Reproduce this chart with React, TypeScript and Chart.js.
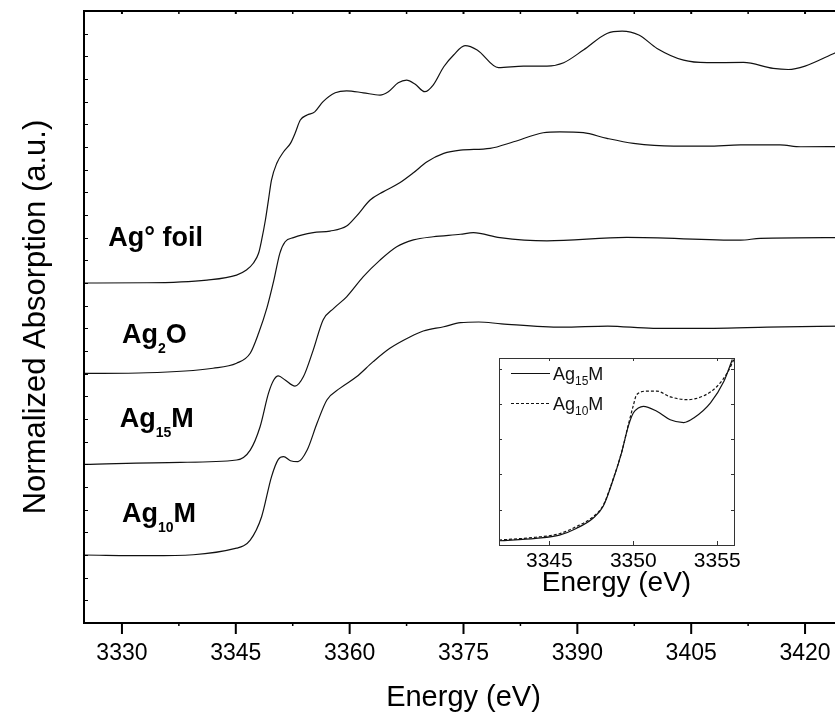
import React, { useEffect, useRef } from 'react';
import { Chart, registerables } from 'chart.js';

Chart.register(...registerables);

const FONT = "'Liberation Sans', Arial, Helvetica, sans-serif";

// ---- Main chart data (Energy in eV, normalized absorption offset stacked) ----
const foilE = [3325, 3333.3, 3341.2, 3345.1, 3346.4, 3347.3, 3348.0, 3348.4, 3348.9, 3349.3, 3349.7, 3350.4, 3351.3, 3352.2, 3352.8, 3353.5, 3354.4, 3355.4, 3356.5, 3358.1, 3359.6, 3361.8, 3364.0, 3365.1, 3366.4, 3367.5, 3368.6, 3369.9, 3371.0, 3372.4, 3373.7, 3375.2, 3376.8, 3379.6, 3382.9, 3386.0, 3388.2, 3390.8, 3393.9, 3395.9, 3398.1, 3400.5, 3404.0, 3407.1, 3411.9, 3415.8, 3417.8, 3420.0, 3424.0, 3425];
const foilA = [15.0, 15.01, 15.13, 15.35, 15.57, 15.87, 16.31, 16.89, 17.78, 18.66, 19.54, 20.28, 20.79, 21.16, 21.6, 22.19, 22.41, 22.55, 23.0, 23.39, 23.48, 23.39, 23.29, 23.44, 23.83, 23.95, 23.78, 23.44, 23.73, 24.54, 25.06, 25.47, 25.28, 24.5, 24.57, 24.57, 24.72, 25.28, 26.01, 26.11, 25.94, 25.35, 24.83, 24.72, 24.73, 24.47, 24.42, 24.57, 25.16, 25.3];

const ag2oE = [3325, 3333.3, 3342.0, 3345.1, 3346.9, 3348.0, 3349.1, 3350.0, 3350.8, 3351.5, 3352.6, 3355.2, 3357.4, 3359.6, 3360.9, 3362.7, 3364.4, 3366.6, 3368.4, 3370.2, 3372.4, 3374.6, 3378.5, 3381.6, 3385.5, 3387.7, 3390.8, 3393.9, 3397.4, 3402.7, 3407.1, 3411.5, 3416.7, 3419.4, 3425];
const ag2oA = [11.01, 11.04, 11.24, 11.46, 11.9, 12.78, 13.9, 15.1, 16.31, 16.82, 17.0, 17.22, 17.29, 17.51, 17.95, 18.66, 19.02, 19.42, 19.86, 20.35, 20.72, 20.86, 20.94, 21.23, 21.63, 21.67, 21.63, 21.38, 21.16, 21.04, 21.04, 21.09, 21.09, 21.01, 21.02];

const ag15E = [3325, 3337.7, 3345.1, 3346.9, 3348.2, 3349.3, 3350.0, 3350.6, 3351.5, 3352.8, 3353.9, 3355.2, 3356.5, 3357.9, 3359.6, 3361.8, 3364.0, 3366.2, 3368.4, 3371.0, 3374.6, 3376.3, 3379.8, 3386.0, 3396.5, 3411.5, 3414.1, 3425];
const ag15A = [7.0, 7.09, 7.19, 7.63, 8.66, 10.13, 10.72, 10.9, 10.72, 10.45, 10.86, 12.04, 13.37, 13.88, 14.39, 15.28, 16.01, 16.6, 16.9, 17.04, 17.15, 17.22, 17.0, 16.86, 17.01, 16.89, 16.97, 17.0];

const ag10E = [3325, 3333.7, 3345.1, 3346.9, 3348.4, 3349.7, 3350.6, 3351.3, 3352.2, 3353.2, 3354.4, 3355.7, 3357.0, 3358.7, 3360.9, 3363.1, 3365.3, 3368.0, 3369.7, 3372.4, 3374.6, 3377.0, 3380.0, 3388.0, 3394.0, 3400.0, 3408.0, 3415.0, 3425];
const ag10A = [3.0, 2.97, 3.3, 3.66, 4.69, 6.45, 7.22, 7.34, 7.16, 7.12, 7.63, 8.81, 9.84, 10.35, 10.86, 11.53, 12.12, 12.63, 12.88, 13.07, 13.25, 13.28, 13.2, 13.05, 13.1, 13.0, 13.0, 13.05, 13.1];

const xTickValues = [3330, 3345, 3360, 3375, 3390, 3405, 3420];

// ---- Inset data (edge region) ----
const in15E = [3342.0, 3344.2, 3345.6, 3346.6, 3347.6, 3348.2, 3348.8, 3349.3, 3349.7, 3350.0, 3350.3, 3350.6, 3351.4, 3352.2, 3353.0, 3353.6, 3354.6, 3355.4, 3355.9];
const in15A = [0.12, 0.19, 0.28, 0.47, 0.76, 1.09, 1.85, 2.61, 3.36, 3.74, 3.88, 3.93, 3.79, 3.55, 3.47, 3.6, 4.03, 4.64, 5.26];
const in10E = [3342.0, 3344.2, 3345.6, 3346.6, 3347.6, 3348.2, 3348.8, 3349.3, 3349.7, 3350.0, 3350.2, 3350.8, 3351.4, 3352.2, 3353.2, 3354.2, 3355.0, 3355.6, 3356.0];
const in10A = [0.14, 0.22, 0.32, 0.52, 0.8, 1.12, 1.87, 2.62, 3.4, 3.95, 4.26, 4.36, 4.36, 4.2, 4.12, 4.23, 4.5, 4.88, 5.26];

const insetTickValues = [3345, 3350, 3355];

// Sample label texts: [text, isSubscript]
const labelFoil: [string, boolean][] = [['Ag° foil', false]];
const labelAg2O: [string, boolean][] = [['Ag', false], ['2', true], ['O', false]];
const labelAg15: [string, boolean][] = [['Ag', false], ['15', true], ['M', false]];
const labelAg10: [string, boolean][] = [['Ag', false], ['10', true], ['M', false]];

// Label anchors in data coordinates (energy, absorption at baseline)
const labelAnchors = [
  { parts: labelFoil, x: 3328.2, y: 16.63 },
  { parts: labelAg2O, x: 3330.0, y: 12.35 },
  { parts: labelAg15, x: 3329.7, y: 8.65 },
  { parts: labelAg10, x: 3330.0, y: 4.46 },
];

const toPts = (xs: number[], ys: number[]) => xs.map((x, i) => ({ x, y: ys[i] }));

function drawRich(ctx: CanvasRenderingContext2D, parts: [string, boolean][], x: number, y: number, big: number, small: number, subDy: number, weight: string) {
  let cx = x;
  ctx.textBaseline = 'alphabetic';
  ctx.textAlign = 'left';
  for (const [t, sub] of parts) {
    ctx.font = `${weight} ${sub ? small : big}px ${FONT}`;
    ctx.fillText(t, cx, sub ? y + subDy : y);
    cx += ctx.measureText(t).width;
  }
}

const mainDecor = {
  id: 'mainDecor',
  afterDatasetsDraw(chart: any) {
    const { ctx, chartArea: a, scales } = chart;
    const x = scales.x, y = scales.y;
    ctx.save();
    ctx.strokeStyle = '#000';
    ctx.lineWidth = 2;
    ctx.strokeRect(a.left, a.top, a.right - a.left, a.bottom - a.top);
    // major x ticks (outward bottom, inward top)
    ctx.beginPath();
    xTickValues.forEach((v) => {
      const px = x.getPixelForValue(v);
      ctx.moveTo(px, a.bottom);
      ctx.lineTo(px, a.bottom + 11);
      ctx.moveTo(px, a.top);
      ctx.lineTo(px, a.top + 3);
    });
    ctx.stroke();
    // minor x ticks
    ctx.lineWidth = 1.5;
    ctx.beginPath();
    for (let i = 0; i < xTickValues.length - 1; i++) {
      const px = x.getPixelForValue((xTickValues[i] + xTickValues[i + 1]) / 2);
      ctx.moveTo(px, a.bottom);
      ctx.lineTo(px, a.bottom + 3);
      ctx.moveTo(px, a.top);
      ctx.lineTo(px, a.top + 3);
    }
    ctx.stroke();
    // y ticks inward
    ctx.lineWidth = 1;
    ctx.beginPath();
    for (let v = y.min + 1; v < y.max; v++) {
      const py = Math.round(y.getPixelForValue(v)) + 0.5;
      ctx.moveTo(a.left, py);
      ctx.lineTo(a.left + 4, py);
    }
    ctx.stroke();
    // sample labels
    ctx.fillStyle = '#000';
    labelAnchors.forEach((l) => {
      drawRich(ctx, l.parts, x.getPixelForValue(l.x), y.getPixelForValue(l.y), 27, 14, 10, 'bold');
    });
    ctx.restore();
  },
};

const insetLegend: { ds: number; parts: [string, boolean][] }[] = [
  { ds: 0, parts: labelAg15 },
  { ds: 1, parts: labelAg10 },
];

const insetDecor = {
  id: 'insetDecor',
  beforeDatasetsDraw(chart: any) {
    const { ctx, chartArea: a } = chart;
    ctx.save();
    ctx.fillStyle = '#fff';
    ctx.fillRect(a.left, a.top, a.right - a.left, a.bottom - a.top);
    ctx.restore();
  },
  afterDatasetsDraw(chart: any) {
    const { ctx, chartArea: a, scales } = chart;
    const x = scales.x, y = scales.y;
    ctx.save();
    ctx.strokeStyle = '#333';
    ctx.lineWidth = 1;
    ctx.strokeRect(Math.round(a.left) + 0.5, Math.round(a.top) + 0.5, Math.round(a.right - a.left), Math.round(a.bottom - a.top));
    ctx.beginPath();
    insetTickValues.forEach((v) => {
      const px = Math.round(x.getPixelForValue(v)) + 0.5;
      ctx.moveTo(px, a.bottom);
      ctx.lineTo(px, a.bottom - 4);
      ctx.moveTo(px, a.top);
      ctx.lineTo(px, a.top + 3);
    });
    for (let v = 1; v < y.max; v++) {
      const py = Math.round(y.getPixelForValue(v)) + 0.5;
      ctx.moveTo(a.left, py);
      ctx.lineTo(a.left + 3, py);
      ctx.moveTo(a.right, py);
      ctx.lineTo(a.right - 3, py);
    }
    ctx.stroke();
    // legend
    insetLegend.forEach((item, i) => {
      const ds = chart.data.datasets[item.ds];
      const ly = a.top + 15.5 + i * 30;
      ctx.strokeStyle = ds.borderColor;
      ctx.lineWidth = 1.2;
      ctx.setLineDash(ds.borderDash || []);
      ctx.beginPath();
      ctx.moveTo(a.left + 12, ly);
      ctx.lineTo(a.left + 51, ly);
      ctx.stroke();
      ctx.setLineDash([]);
      ctx.fillStyle = '#111';
      drawRich(ctx, item.parts, a.left + 54, ly + 6.5, 18, 12, 5, 'normal');
    });
    ctx.restore();
  },
};

export default function App() {
  const mainRef = useRef<HTMLCanvasElement | null>(null);
  const insetRef = useRef<HTMLCanvasElement | null>(null);

  useEffect(() => {
    if (!mainRef.current || !insetRef.current) return;
    const lineDs = (data: { x: number; y: number }[], extra: any = {}) => ({
      data,
      borderColor: '#111',
      borderWidth: 1.2,
      pointRadius: 0,
      fill: false,
      cubicInterpolationMode: 'monotone',
      ...extra,
    });

    const main = new Chart(mainRef.current, {
      type: 'line',
      data: {
        datasets: [
          lineDs(toPts(foilE, foilA)),
          lineDs(toPts(ag2oE, ag2oA)),
          lineDs(toPts(ag15E, ag15A)),
          lineDs(toPts(ag10E, ag10A)),
        ],
      } as any,
      options: {
        responsive: false,
        animation: false,
        layout: { padding: { top: 11, right: 17, left: 0, bottom: 0 } },
        plugins: { legend: { display: false }, tooltip: { enabled: false } },
        scales: {
          x: {
            type: 'linear',
            min: 3325,
            max: 3425,
            grid: { display: false, drawTicks: false },
            border: { display: false },
            afterBuildTicks: (s: any) => {
              s.ticks = xTickValues.map((v) => ({ value: v }));
            },
            afterFit: (s: any) => {
              s.height = 96;
            },
            ticks: {
              padding: 16.5,
              color: '#000',
              autoSkip: false,
              maxRotation: 0,
              font: { family: FONT, size: 23 },
              callback: (v: any) => String(v),
            },
            title: {
              display: true,
              text: 'Energy (eV)',
              color: '#000',
              font: { family: FONT, size: 29 },
              padding: { top: 0, bottom: 4 },
            },
          },
          y: {
            type: 'linear',
            min: 0,
            max: 27,
            grid: { display: false, drawTicks: false },
            border: { display: false },
            ticks: { display: false },
            afterFit: (s: any) => {
              s.width = 84;
            },
            title: {
              display: true,
              text: 'Normalized Absorption (a.u.)',
              color: '#000',
              font: { family: FONT, size: 31 },
              padding: { top: 18, bottom: 0 },
            },
          },
        },
      } as any,
      plugins: [mainDecor],
    });

    const inset = new Chart(insetRef.current, {
      type: 'line',
      data: {
        datasets: [
          lineDs(toPts(in15E, in15A)),
          lineDs(toPts(in10E, in10A), { borderDash: [3, 2] }),
        ],
      } as any,
      options: {
        responsive: false,
        animation: false,
        layout: { padding: { top: 28, right: 36, left: 0, bottom: 0 } },
        plugins: { legend: { display: false }, tooltip: { enabled: false } },
        scales: {
          x: {
            type: 'linear',
            min: 3342,
            max: 3356,
            grid: { display: false, drawTicks: false },
            border: { display: false },
            afterBuildTicks: (s: any) => {
              s.ticks = insetTickValues.map((v) => ({ value: v }));
            },
            afterFit: (s: any) => {
              s.height = 55;
            },
            ticks: {
              padding: 3.4,
              color: '#000',
              autoSkip: false,
              maxRotation: 0,
              font: { family: FONT, size: 21 },
              callback: (v: any) => String(v),
            },
            title: {
              display: true,
              text: 'Energy (eV)',
              color: '#000',
              font: { family: FONT, size: 28 },
              padding: { top: 0, bottom: 0 },
            },
          },
          y: {
            type: 'linear',
            min: 0,
            max: 5.3,
            grid: { display: false, drawTicks: false },
            border: { display: false },
            ticks: { display: false },
            afterFit: (s: any) => {
              s.width = 59;
            },
          },
        },
      } as any,
      plugins: [insetDecor],
    });

    return () => {
      main.destroy();
      inset.destroy();
    };
  }, []);

  return (
    <div
      style={{
        position: 'absolute',
        left: 0,
        top: 0,
        width: 835,
        height: 719,
        overflow: 'hidden',
        background: '#fff',
      }}
    >
      <canvas ref={mainRef} width={860} height={719} style={{ position: 'absolute', left: 0, top: 0, display: 'block' }} />
      <canvas ref={insetRef} width={330} height={270} style={{ position: 'absolute', left: 440, top: 330, display: 'block' }} />
    </div>
  );
}
